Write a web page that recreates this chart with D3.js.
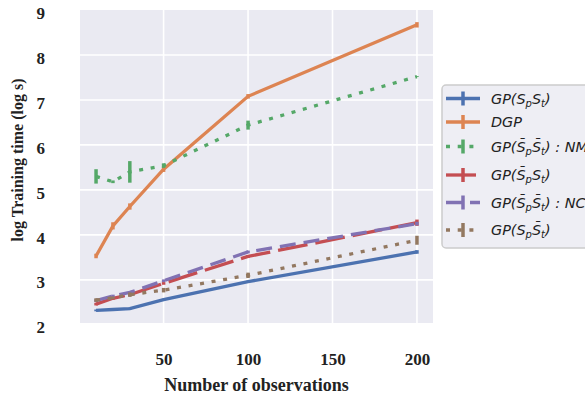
<!DOCTYPE html>
<html>
<head>
<meta charset="utf-8">
<script src="https://cdn.jsdelivr.net/npm/d3@7"></script>
<style>
	body { margin: 0; background: #fff; }
	svg { display: block; }
	.tick text { font-family: "Liberation Serif", "Times New Roman", serif; font-weight: bold; font-size: 17px; fill: #222; }
	.ttl { font-family: "Liberation Serif", "Times New Roman", serif; font-weight: bold; fill: #222; }
	.leg text { font-family: "DejaVu Sans", sans-serif; font-style: italic; font-size: 14.4px; fill: #222; }
</style>
</head>
<body>
<svg id="chart" width="585" height="398"></svg>
<script>
// observations on the x axis
var obs = [10, 20, 30, 50, 100, 200];
var xTicks = [50, 100, 150, 200];
var yTicks = [2, 3, 4, 5, 6, 7, 8, 9];

// log training time per model, with error half-widths
var gpSpSt     = [2.32, 2.34, 2.36, 2.56, 2.96, 3.62];
var gpSpStErr  = [0.02, 0.02, 0.02, 0.02, 0.02, 0.04];
var dgp        = [3.53, 4.20, 4.63, 5.46, 7.08, 8.67];
var dgpErr     = [0.05, 0.08, 0.07, 0.06, 0.05, 0.06];
var gpNM       = [5.30, 5.18, 5.40, 5.54, 6.44, 7.52];
var gpNMErr    = [0.16, 0.03, 0.24, 0.05, 0.10, 0.01];
var gpBarSp    = [2.46, 2.59, 2.67, 2.92, 3.52, 4.27];
var gpBarSpErr = [0.03, 0.03, 0.03, 0.03, 0.03, 0.07];
var gpNC       = [2.54, 2.64, 2.72, 2.98, 3.62, 4.25];
var gpNCErr    = [0.03, 0.03, 0.03, 0.03, 0.03, 0.04];
var gpBarSt    = [2.55, 2.60, 2.67, 2.77, 3.10, 3.88];
var gpBarStErr = [0.04, 0.03, 0.05, 0.05, 0.06, 0.10];

var series = [
	{ name: ["GP(S", "p", "S", "t", ")"], vals: gpSpSt, err: gpSpStErr, color: "#4C72B0", dash: null },
	{ name: ["DGP"], vals: dgp, err: dgpErr, color: "#DD8452", dash: null },
	{ name: ["GP(S\u0304", "p", "S\u0304", "t", ") : NM"], vals: gpNM, err: gpNMErr, color: "#55A868", dash: "4,7.7" },
	{ name: ["GP(S\u0304", "p", "S", "t", ")"], vals: gpBarSp, err: gpBarSpErr, color: "#C44E52", dash: "30,8" },
	{ name: ["GP(S\u0304", "p", "S\u0304", "t", ") : NC"], vals: gpNC, err: gpNCErr, color: "#8172B3", dash: "16,8" },
	{ name: ["GP(S", "p", "S\u0304", "t", ")"], vals: gpBarSt, err: gpBarStErr, color: "#937860", dash: "4,7.7" }
];

(function () {
	var svg = d3.select("#chart");
	var left = 80, top = 10, right = 433, bottom = 323;

	var x = d3.scaleLinear().domain([0.5, 209.5]).range([left, right]);
	var y = d3.scaleLinear().domain([2.04, 9]).range([bottom, top]);

	svg.append("rect")
		.attr("x", left).attr("y", top)
		.attr("width", right - left).attr("height", bottom - top)
		.attr("fill", "#EAEAF2");

	// grid
	svg.append("g").selectAll("line").data(yTicks.filter(function (t) { return y(t) <= bottom && y(t) > top; }))
		.enter().append("line")
		.attr("x1", left).attr("x2", right)
		.attr("y1", function (d) { return y(d); }).attr("y2", function (d) { return y(d); })
		.attr("stroke", "#fff").attr("stroke-width", 1.6);
	svg.append("g").selectAll("line").data(xTicks)
		.enter().append("line")
		.attr("y1", top).attr("y2", bottom)
		.attr("x1", function (d) { return x(d); }).attr("x2", function (d) { return x(d); })
		.attr("stroke", "#fff").attr("stroke-width", 1.6);

	// axes
	var xa = svg.append("g")
		.attr("transform", "translate(0," + bottom + ")")
		.call(d3.axisBottom(x).tickValues(xTicks).tickSize(0).tickPadding(30).tickFormat(d3.format("d")));
	xa.select(".domain").remove();

	var ya = svg.append("g")
		.attr("transform", "translate(" + left + ",0)")
		.call(d3.axisLeft(y).tickValues(yTicks).tickSize(0).tickPadding(35).tickFormat(d3.format("d")));
	ya.select(".domain").remove();
	ya.selectAll("text").attr("dy", "0.48em");

	svg.append("text").attr("class", "ttl")
		.attr("x", (left + right) / 2).attr("y", 391)
		.attr("text-anchor", "middle")
		.style("font-size", "18px")
		.text("Number of observations");

	svg.append("text").attr("class", "ttl")
		.attr("transform", "translate(23,160) rotate(-90)")
		.attr("text-anchor", "middle")
		.style("font-size", "16px")
		.text("log Training time (log s)");

	// lines + error bars
	var line = d3.line()
		.x(function (d, i) { return x(obs[i]); })
		.y(function (d) { return y(d); });

	series.forEach(function (s) {
		var g = svg.append("g");
		g.selectAll("line").data(s.vals).enter().append("line")
			.attr("x1", function (d, i) { return x(obs[i]); })
			.attr("x2", function (d, i) { return x(obs[i]); })
			.attr("y1", function (d, i) { return y(d - s.err[i]); })
			.attr("y2", function (d, i) { return y(d + s.err[i]); })
			.attr("stroke", s.color).attr("stroke-width", 3.5);
		g.append("path")
			.datum(s.vals)
			.attr("d", line)
			.attr("fill", "none")
			.attr("stroke", s.color)
			.attr("stroke-width", 3.3)
			.attr("stroke-dasharray", s.dash);
	});

	// legend
	var leg = svg.append("g").attr("class", "leg");
	leg.append("rect")
		.attr("x", 442).attr("y", 85)
		.attr("width", 200).attr("height", 163)
		.attr("rx", 4)
		.attr("fill", "#EEEEF4")
		.attr("stroke", "#CCCCCC").attr("stroke-width", 1.5);

	var rowY = [98.5, 122, 146.5, 175, 202.5, 230];
	series.forEach(function (s, i) {
		var r = leg.append("g").attr("transform", "translate(0," + rowY[i] + ")");
		r.append("line")
			.attr("x1", 463).attr("x2", 463).attr("y1", -7).attr("y2", 7)
			.attr("stroke", s.color).attr("stroke-width", 3.5);
		r.append("line")
			.attr("x1", 446).attr("x2", 480).attr("y1", 0).attr("y2", 0)
			.attr("stroke", s.color).attr("stroke-width", 3.3)
			.attr("stroke-dasharray", s.dash);
		var t = r.append("text").attr("x", 491).attr("y", 5);
		s.name.forEach(function (part, j) {
			var sub = j % 2 === 1;
			t.append("tspan")
				.attr("dy", sub ? 3 : (j > 0 ? -3 : 0))
				.style("font-size", sub ? "10px" : null)
				.text(part);
		});
	});
})();
</script>
</body>
</html>
